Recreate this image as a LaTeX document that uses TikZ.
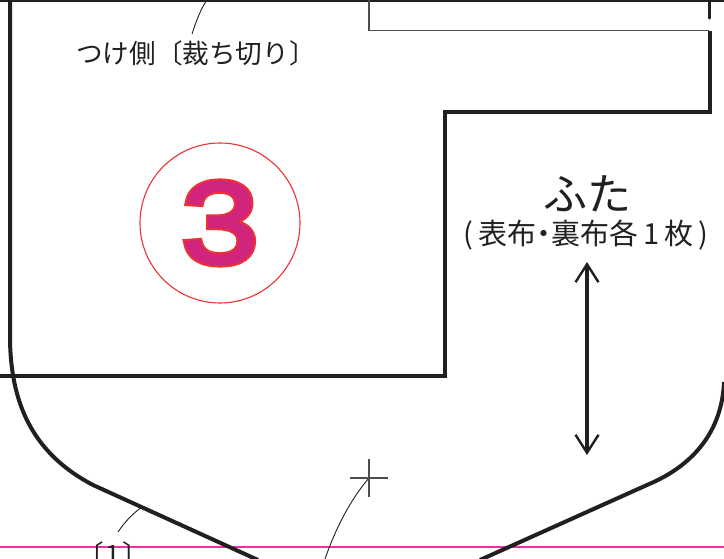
\documentclass[tikz,border=0pt]{standalone}
\usepackage{fontspec}
\usetikzlibrary{arrows.meta}
\newfontfamily\jpfont{Noto Sans CJK JP}
\newfontfamily\threeoutline[FakeBold=6,FakeStretch=1.2]{Liberation Sans}
\newfontfamily\threeinner[FakeBold=2.5,FakeStretch=1.2]{Liberation Sans}
\definecolor{ink}{RGB}{35,31,32}
\definecolor{pinkline}{RGB}{232,50,165}
\definecolor{ringred}{RGB}{238,50,50}
\definecolor{threefill}{RGB}{208,36,125}
\tikzset{
  x=1pt,y=-1pt,
  heavy/.style={draw=ink,line width=4pt,line join=miter},
  thinline/.style={draw=ink!80,line width=1.2pt},
  leader/.style={draw=ink,line width=0.9pt},
  label/.style={inner sep=0pt,text=ink,font=\jpfont\fontsize{26.6}{27}\selectfont},
  bigarrow/.style={draw=ink,line width=3.2pt,{Straight Barb[length=18pt,width=23pt,line width=2.4pt]}-{Straight Barb[length=18pt,width=23pt,line width=2.4pt]}},
}
\begin{document}
\begin{tikzpicture}
\useasboundingbox (0,0) rectangle (724,559);
\clip (0,0) rectangle (724,559);
% pink line
\draw[pinkline,line width=2pt] (0,546.5) -- (724,546.5);
% top edge and thin seam
\draw[heavy,line width=3.4pt] (0,0.5) -- (724,0.5);
\draw[thinline] (369,0) -- (369,30.5) -- (709,30.5);
\draw[heavy,line cap=round,line width=3.4pt] (709.5,0) -- (709.5,18);
% panel outline
\draw[heavy] (10,0) -- (10,340)
  .. controls (11,400) and (30,452) .. (93,485) -- (258,560);
\draw[heavy] (0,376) -- (444.5,376) -- (444.5,112) -- (709.5,112) -- (709.5,31);
\draw[heavy] (724,382) .. controls (722,430) and (695,465) .. (647,485) -- (480,560);
% circle with number
\node[circle,draw=ringred,line width=1.1pt,minimum size=160pt,inner sep=0pt] (ring) at (220,223) {};
\node[inner sep=0pt,text=ringred,font=\threeoutline\fontsize{116}{116}\selectfont] (threeb) at (220,223) {3};
\node[inner sep=0pt,text=threefill,font=\threeinner\fontsize{116}{116}\selectfont] (three) at (220,223) {3};
% labels
\node[label] (edge) at (196,53) {つけ側〔裁ち切り〕};
\node[label,font=\jpfont\fontsize{44}{44}\selectfont] (futa) at (587,194) {ふた};
\node[label,font=\jpfont\fontsize{29}{29}\selectfont] (cloth) at (586,235) {(\hspace{5pt}表布\hspace{-7pt}・\hspace{-7pt}裏布各\hspace{5pt}1\hspace{5pt}枚\hspace{5pt})};
\node[label] (one) at (113,554) {〔\hspace{2pt}1\hspace{2pt}〕};
% double arrow
\coordinate (atop) at (587,262);
\coordinate (abot) at (587,455);
\draw[bigarrow] (atop) -- (abot);
% leaders
\coordinate (l1a) at (207,0);
\coordinate (l2a) at (142,507);
\coordinate (l2b) at (118,532);
\coordinate (mark) at (369,478);
\coordinate (l3b) at (325,559);
\draw[leader] (l1a) .. controls (200,10) and (196,22) .. (192,34);
\draw[leader] (l2a) .. controls (132,514) and (124,523) .. (l2b);
\draw[leader] (mark) .. controls (350,500) and (335,530) .. (l3b);
\draw[thinline] (350,478) -- (388,478);
\draw[thinline] (369,459) -- (369,497);
\end{tikzpicture}
\end{document}
